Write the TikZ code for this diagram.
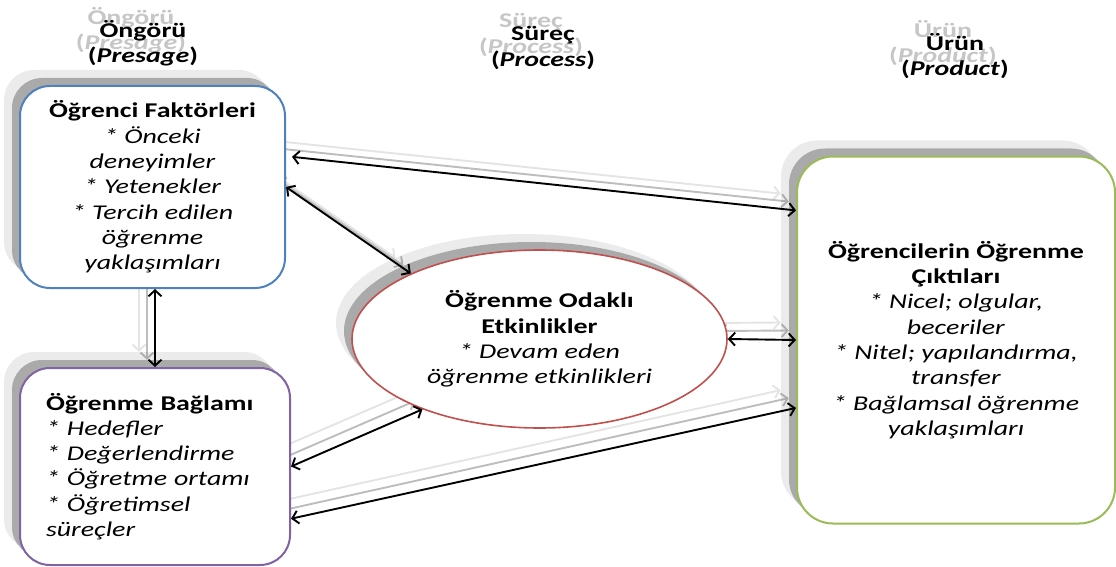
\documentclass[tikz,border=0pt]{standalone}
\usepackage{fontspec}
\setmainfont{Carlito}[FakeStretch=1.33]
\usetikzlibrary{arrows.meta,shapes.geometric,shadows}

\definecolor{boxblue}{HTML}{4F81BD}
\definecolor{boxpurple}{HTML}{8064A2}
\definecolor{boxred}{HTML}{C0504D}
\definecolor{boxgreen}{HTML}{9BBB59}
\definecolor{ghostdark}{HTML}{BDBDBD}
\definecolor{ghostlight}{HTML}{E4E4E4}
\definecolor{echotext}{HTML}{C6C6C6}

\tikzset{
  every node/.style={font=\fontsize{21}{25.3}\selectfont},
  twoshadow/.style={
    general shadow={fill=black, fill opacity=0.08, shadow xshift=-16pt, shadow yshift=16pt},
    general shadow={fill=black, fill opacity=0.28, shadow xshift=-8pt, shadow yshift=8pt}},
  panel/.style={twoshadow, draw, line width=2pt, fill=white,
    rounded corners=30pt, inner sep=0pt},
  activity/.style={twoshadow, ellipse, draw=boxred, line width=1.6pt,
    fill=white, inner sep=0pt},
  heading/.style={align=center, font=\fontsize{21}{25.3}\selectfont\bfseries},
  link/.style={{Straight Barb[length=6pt,width=13pt]}-{Straight Barb[length=6pt,width=13pt]},
    line width=1.9pt},
  ghostnear/.style={draw=ghostdark, transform canvas={shift={(-8pt,8pt)}}},
  ghostfar/.style={draw=ghostlight, transform canvas={shift={(-16pt,16pt)}}},
}

\begin{document}
\begin{tikzpicture}[x=1pt,y=-1pt]
\useasboundingbox (0,0) rectangle (1116,567);

% column headings with their faded echoes
\node[heading, text=echotext] (h1e) at (131,30) {Öngörü\\(\textit{Presage})};
\node[heading] (h1) at (143,43) {Öngörü\\(\textit{Presage})};

\node[heading, text=echotext] (h2e) at (531,35) {Süreç\\(\textit{Process})};
\node[heading] (h2) at (543,48) {Süreç\\(\textit{Process})};

\node[heading, text=echotext] (h3e) at (943,43) {Ürün\\(\textit{Product})};
\node[heading] (h3) at (955,56) {Ürün\\(\textit{Product})};

% anchor-only placeholders so the echo arrows can be drawn before the boxes
\path (152.5,187) node[minimum width=265pt, minimum height=202pt, inner sep=0pt] (p1) {};
\path (155,466.5) node[minimum width=270pt, minimum height=197pt, inner sep=0pt] (p2) {};
\path (956,338.5) node[minimum width=318pt, minimum height=367pt, inner sep=0pt] (p3) {};
\path (539.5,339) node[ellipse, minimum width=375pt, minimum height=178pt, inner sep=0pt] (pe) {};

% faded echoes of the connectors
\foreach \g in {ghostfar,ghostnear}{
  \draw[link,\g] (p1.13) -- (p3.141);
  \draw[link,\g] (p1.east) -- (pe.153.5);
  \draw[link,\g] (p2.north |- p1.south) -- (p2.north);
  \draw[link,\g] (p2.east) -- (pe.211);
  \draw[link,\g] (p2.-21) -- (p3.203.6);
  \draw[link,\g] (pe.east) -- (p3.west);
}

% boxes
\node[panel, draw=boxblue, minimum width=265pt, minimum height=202pt, align=center]
  (b1) at (152.5,187)
  {\textbf{Öğrenci Faktörleri}\\ \textit{* Önceki}\\ \textit{deneyimler}\\
   \textit{* Yetenekler}\\ \textit{* Tercih edilen}\\ \textit{öğrenme}\\
   \textit{yaklaşımları}};

\node[panel, draw=boxpurple, minimum width=270pt, minimum height=197pt,
  text width=218pt, align=left]
  (b2) at (155,466.5)
  {\textbf{Öğrenme Bağlamı}\\ \textit{* Hedefler}\\ \textit{* Değerlendirme}\\
   \textit{* Öğretme ortamı}\\ \textit{* Öğretimsel}\\ \textit{süreçler}};

\node[panel, draw=boxgreen, rounded corners=36pt, minimum width=318pt,
  minimum height=367pt, align=center]
  (b3) at (956,340)
  {\textbf{Öğrencilerin Öğrenme}\\ \textbf{Çıktıları}\\ \textit{* Nicel; olgular,}\\
   \textit{beceriler}\\ \textit{* Nitel; yapılandırma,}\\ \textit{transfer}\\
   \textit{* Bağlamsal öğrenme}\\ \textit{yaklaşımları}};

\node[activity, minimum width=375pt, minimum height=178pt, align=center]
  (e) at (539.5,339)
  {\textbf{Öğrenme Odaklı}\\ \textbf{Etkinlikler}\\ \textit{* Devam eden}\\
   \textit{öğrenme etkinlikleri}};

% connectors
\draw[link, shorten <=6pt] (b1.13) -- (b3.141);
\draw[link] (b1.east) -- (e.153.5);
\draw[link] (b2.north |- b1.south) -- (b2.north);
\draw[link] (b2.east) -- (e.211);
\draw[link] (b2.-21) -- (b3.203.6);
\draw[link] (e.east) -- (b3.west);
\end{tikzpicture}
\end{document}
